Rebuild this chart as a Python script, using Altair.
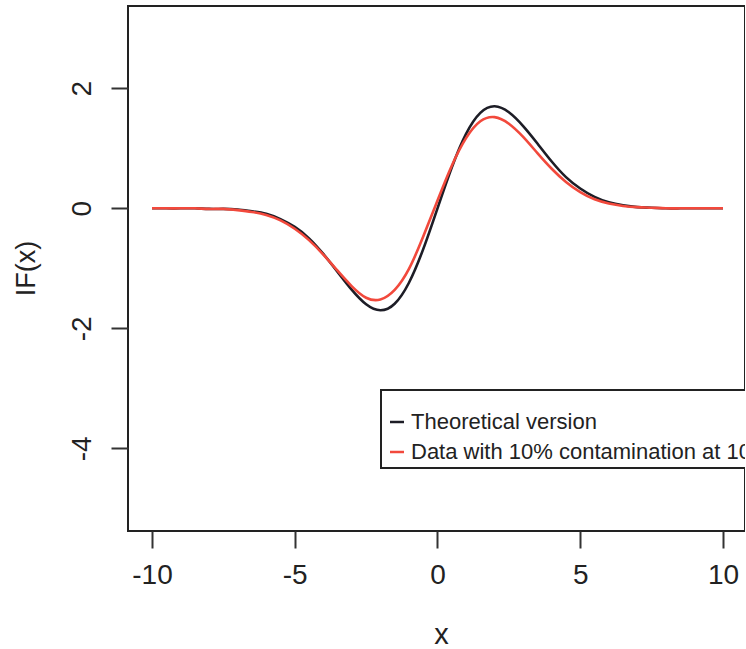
import altair as alt
import pandas as pd

# ---- data ----
x_vals = [-10.0, -9.5, -9.0, -8.5, -8.0, -7.5, -7.0, -6.5, -6.0, -5.5,
          -5.0, -4.5, -4.0, -3.5, -3.0, -2.5, -2.0, -1.5, -1.0, -0.5,
          0.0, 0.5, 1.0, 1.5, 2.0, 2.5, 3.0, 3.5, 4.0, 4.5,
          5.0, 5.5, 6.0, 6.5, 7.0, 7.5, 8.0, 8.5, 9.0, 9.5, 10.0]

theoretical = [0.00, 0.00, 0.00, 0.00, -0.01, -0.01, -0.02, -0.05, -0.09, -0.18,
               -0.31, -0.50, -0.76, -1.06, -1.36, -1.60, -1.70, -1.59, -1.24, -0.68,
               0.00, 0.68, 1.24, 1.59, 1.70, 1.60, 1.37, 1.08, 0.78, 0.52,
               0.33, 0.19, 0.10, 0.05, 0.02, 0.01, 0.00, 0.00, 0.00, 0.00, 0.00]

contaminated = [0.00, 0.00, 0.00, 0.00, -0.01, -0.01, -0.03, -0.06, -0.11, -0.20,
                -0.34, -0.53, -0.77, -1.04, -1.30, -1.49, -1.52, -1.36, -1.01, -0.47,
                0.13, 0.71, 1.17, 1.45, 1.52, 1.41, 1.19, 0.92, 0.66, 0.44,
                0.27, 0.15, 0.08, 0.04, 0.02, 0.01, 0.00, 0.00, 0.00, 0.00, 0.00]

series_names = ["Theoretical version", "Data with 10% contamination at 10"]
series_colors = ["#1d1d26", "#f2493c"]
x_ticks = [-10, -5, 0, 5, 10]
y_ticks = [-4, -2, 0, 2]

rows = []
for xv, yt, yc in zip(x_vals, theoretical, contaminated):
    rows.append({"x": xv, "IF": yt, "series": series_names[0]})
    rows.append({"x": xv, "IF": yc, "series": series_names[1]})
df = pd.DataFrame(rows)

FONT = "Liberation Sans"
TXT = "#222222"
PLAIN = "datum.value + ''"  # hyphen-minus labels, as in the reference

x_enc = alt.X(
    "x:Q",
    scale=alt.Scale(domain=[-10.84, 10.77], nice=False, zero=False),
    axis=alt.Axis(
        values=x_ticks, title="x", grid=False, domain=False, labelExpr=PLAIN,
        tickSize=17, tickWidth=2, tickColor="#333333",
        labelFontSize=28, labelFont=FONT, labelColor=TXT, labelPadding=13,
        labelFlush=False, labelOverlap=False,
        titleFontSize=29, titleFont=FONT, titleColor=TXT, titleFontWeight="normal",
        titleX=313, titleY=112, titleBaseline="alphabetic", titleAlign="center",
    ),
)
y_enc = alt.Y(
    "IF:Q",
    scale=alt.Scale(domain=[-5.378, 3.372], nice=False, zero=False),
    axis=alt.Axis(
        values=y_ticks, title="IF(x)", grid=False, domain=False, labelExpr=PLAIN,
        tickSize=17, tickWidth=2, tickColor="#333333",
        labelFontSize=28, labelFont=FONT, labelColor=TXT, labelPadding=21,
        labelAngle=270, labelAlign="center", labelBaseline="alphabetic",
        labelFlush=False, labelOverlap=False,
        titleFontSize=27, titleFont=FONT, titleColor=TXT, titleFontWeight="normal",
        titleAngle=270, titleX=-94, titleY=262, titleBaseline="alphabetic", titleAlign="center",
    ),
)
color_enc = alt.Color(
    "series:N",
    scale=alt.Scale(domain=series_names, range=series_colors),
    legend=alt.Legend(
        title=" ", orient="none", legendX=253, legendY=384, direction="vertical",
        symbolType="stroke", symbolSize=196, symbolStrokeWidth=2.5,
        labelFontSize=22, labelFont=FONT, labelColor=TXT, labelLimit=600,
        labelOffset=3, titleFontSize=16, titlePadding=0,
        padding=5, rowPadding=8, strokeColor="#222222", fillColor="white",
    ),
)

base = alt.Chart(df).mark_line(strokeWidth=2.6, interpolate="natural").encode(
    x=x_enc, y=y_enc, color=color_enc
)

black = base.transform_filter(alt.datum.series == series_names[0])
red = base.transform_filter(alt.datum.series == series_names[1])

chart = (
    alt.layer(black, red)
    .properties(
        width=617, height=525,
        autosize=alt.AutoSizeParams(type="none"),
        padding={"left": 128, "top": 6, "right": 0, "bottom": 118},
        background="white",
    )
    .configure_view(stroke="#222222", strokeWidth=2)
    .configure_legend(strokeWidth=2)
)

chart.save("out.html", embed_options={"renderer": "svg", "actions": False})
